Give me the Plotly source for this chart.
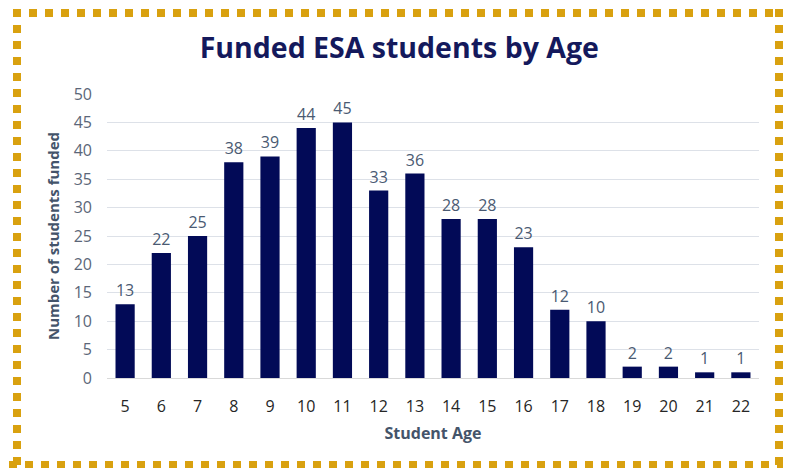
import plotly.graph_objects as go

ages = ["5", "6", "7", "8", "9", "10", "11", "12", "13", "14", "15", "16", "17", "18", "19", "20", "21", "22"]
students = [13, 22, 25, 38, 39, 44, 45, 33, 36, 28, 28, 23, 12, 10, 2, 2, 1, 1]
y_ticks = [0, 5, 10, 15, 20, 25, 30, 35, 40, 45, 50]

W, H = 786, 468
L, R, T, B = 107, 27, 94, 90
pw, ph = W - L - R, H - T - B

def px_x(x):
    return (x - L) / pw

def px_y(y):
    return (H - B - y) / ph

FONT = "Open Sans"

fig = go.Figure(go.Bar(
    x=ages, y=students,
    marker=dict(color="#020A57", line=dict(width=0)),
    text=[str(v) for v in students],
    textposition="outside",
    textfont=dict(family=FONT, size=16, color="#4A5A72"),
    cliponaxis=False,
))

border = dict(color="#D9A10F", width=8, dash="8px,8px")
for x0, y0, x1, y1 in [(13, 13, 783, 13), (17, 9, 17, 468), (779, 9, 779, 468), (9, 465, 783, 465)]:
    fig.add_shape(type="line", xref="paper", yref="paper",
                  x0=px_x(x0), y0=px_y(y0), x1=px_x(x1), y1=px_y(y1),
                  line=border, layer="above")

fig.update_layout(
    width=W, height=H,
    margin=dict(l=L, r=R, t=T, b=B, autoexpand=False),
    paper_bgcolor="white", plot_bgcolor="white",
    bargap=0.47,
    showlegend=False,
    title=dict(text="<b>Funded ESA students by Age</b>", x=0.508, xanchor="center",
               y=1 - 48 / H, yanchor="middle",
               font=dict(family=FONT, size=28.5, color="#14195C")),
    xaxis=dict(
        type="category",
        title=dict(text="<b>Student Age</b>", font=dict(family=FONT, size=16, color="#44546A"), standoff=11),
        tickfont=dict(family=FONT, size=16, color="#262626"),
        showline=True, linecolor="#D9D9D9", linewidth=1,
        showgrid=False, ticks="", ticklen=0, ticklabelstandoff=14,
    ),
    yaxis=dict(
        range=[0, 50],
        tickvals=y_ticks,
        title=dict(text="<b>Number of students funded</b>", font=dict(family=FONT, size=15, color="#44546A"), standoff=10),
        tickfont=dict(family=FONT, size=16, color="#5B6678"),
        showgrid=True, gridcolor="#DDE1E8", gridwidth=1,
        zeroline=False, showline=False, ticks="", ticklabelstandoff=14,
    ),
)

fig.write_html("out.html", config={"displayModeBar": False},
               post_script="document.body.style.margin='0';")
